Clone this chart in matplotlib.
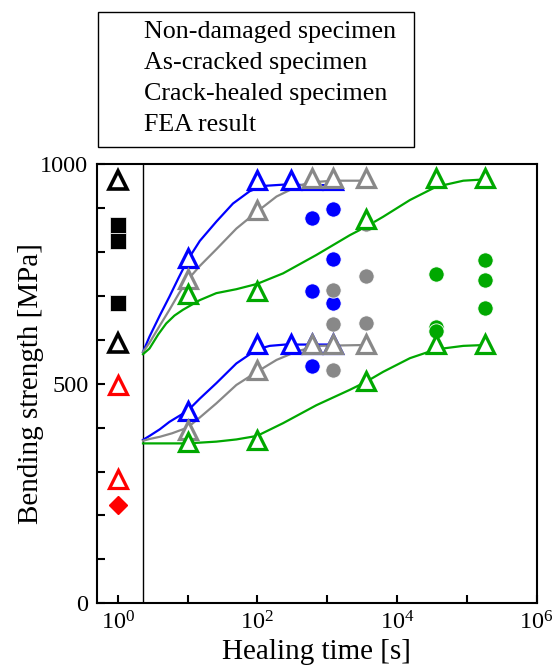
import math
import matplotlib
matplotlib.use("Agg")
import matplotlib.pyplot as plt
from matplotlib.ticker import FixedLocator, FuncFormatter, NullLocator
from matplotlib.patches import Rectangle

plt.rcParams['font.family'] = ['Liberation Serif', 'DejaVu Serif']
plt.rcParams['mathtext.fontset'] = 'custom'
plt.rcParams['mathtext.rm'] = 'Liberation Serif'
plt.rcParams['mathtext.it'] = 'Liberation Serif:italic'

BLUE = '#0000FF'
GRAY = '#888888'
GREEN = '#00A800'
RED = '#FF0000'

# ---- data ----
legend_labels = ["Non-damaged specimen", "As-cracked specimen",
                 "Crack-healed specimen", "FEA result"]

# left panel (t = 1 s)
nd_specimen = [861, 825, 683]
nd_fea = [963, 592]
ac_fea = [497, 283]
ac_specimen = [224]

# FEA points (triangles)
blue_fea_t = [10, 100, 300, 600, 1200]
blue_fea_up = [785, 963, 963, 963, 963]
blue_fea_low = [438, 590, 590, 590, 590]
gray_fea_t = [10, 100, 600, 1200, 3600]
gray_fea_up = [738, 895, 968, 968, 968]
gray_fea_low = [395, 530, 590, 590, 590]
green_fea_t = [10, 100, 3600, 36000, 180000]
green_fea_up = [704, 711, 874, 968, 968]
green_fea_low = [368, 372, 505, 590, 590]

# crack-healed specimens (circles)
blue_sp_t = [600, 600, 600, 1200, 1200, 1200]
blue_sp_v = [876, 712, 540, 897, 784, 684]
gray_sp_t = [1200, 1200, 1200, 3600, 3600, 3600]
gray_sp_v = [713, 635, 531, 863, 745, 639]
green_sp_t = [36000, 36000, 36000, 180000, 180000, 180000]
green_sp_v = [750, 628, 620, 781, 737, 673]

# FEA curves
blue_up_t = [2.3, 2.85, 4, 5.5, 7.5, 10, 15, 25.9, 44.7, 77.6, 120, 234, 600, 1500]
blue_up_v = [572, 607, 655, 698, 742, 781, 825, 869, 910, 938, 950, 953, 952, 952]
gray_up_t = [2.3, 2.85, 4, 5.5, 7.5, 10, 15, 25.9, 50, 98, 188, 362, 562, 1200, 3600]
gray_up_v = [572, 593, 632, 668, 705, 736, 768, 806, 853, 891, 926, 948, 958, 962, 962]
green_up_t = [2.3, 2.85, 3.8, 4.95, 6.5, 8.57, 14.9, 25.8, 50, 98.7, 233, 701, 2110,
              3580, 6340, 15300, 36100, 89000, 182000]
green_up_v = [567, 580, 612, 637, 655, 668, 690, 706, 715, 727, 751, 793, 838,
              857, 880, 918, 948, 962, 965]
blue_low_t = [2.3, 2.85, 4, 5.5, 7.5, 10, 15, 25.8, 50, 98.7, 150, 250, 400, 1000]
blue_low_v = [372, 381, 396, 413, 426, 438, 466, 501, 546, 578, 586, 589, 589, 589]
gray_low_t = [2.3, 2.85, 4, 6, 10, 15, 25.8, 50, 98.7, 188, 362, 701, 3600]
gray_low_v = [370, 374, 379, 387, 400, 423, 455, 497, 527, 554, 573, 586, 588]
green_low_t = [2.3, 10, 25.8, 50, 98.7, 233, 701, 2110, 3580, 6340, 15300,
               36100, 89000, 182000]
green_low_v = [364, 364, 368, 373, 381, 410, 451, 486, 504, 527, 558,
               578, 586, 588]

divider_t = 2.3
x_ticks = [1, 10, 100, 1000, 1e4, 1e5, 1e6]
x_labeled = [0, 2, 4, 6]
y_ticks = list(range(0, 1001, 100))
y_labeled = [0, 500, 1000]

# ---- figure ----
W, H = 556, 667
fig = plt.figure(figsize=(W / 100, H / 100), dpi=100)
ax = fig.add_axes([96.7 / W, 1 - 603.3 / H, (536.7 - 96.7) / W, (603.3 - 164) / H])

ax.set_xscale('log')
ax.set_xlim(0.5, 1e6)
ax.set_ylim(0, 1000)

lw = 1.6
ax.plot(blue_up_t, blue_up_v, color=BLUE, lw=lw, zorder=2)
ax.plot(gray_up_t, gray_up_v, color=GRAY, lw=lw, zorder=2)
ax.plot(green_up_t, green_up_v, color=GREEN, lw=lw, zorder=2)
ax.plot(blue_low_t, blue_low_v, color=BLUE, lw=lw, zorder=2)
ax.plot(gray_low_t, gray_low_v, color=GRAY, lw=lw, zorder=2)
ax.plot(green_low_t, green_low_v, color=GREEN, lw=lw, zorder=2)

ax.axvline(divider_t, color='black', lw=1.0, zorder=1)

cms = 11
for t, v, c in [(blue_sp_t, blue_sp_v, BLUE), (gray_sp_t, gray_sp_v, GRAY),
                (green_sp_t, green_sp_v, GREEN)]:
    ax.plot(t, v, 'o', ms=cms, color=c, mec='white', mew=0.6, zorder=3)

tms = 12.5
tmew = 2.3
for t, vu, vl, c in [(blue_fea_t, blue_fea_up, blue_fea_low, BLUE),
                     (gray_fea_t, gray_fea_up, gray_fea_low, GRAY),
                     (green_fea_t, green_fea_up, green_fea_low, GREEN)]:
    ax.plot(t, vu, '^', ms=tms, mfc='white', mec=c, mew=tmew, zorder=4)
    ax.plot(t, vl, '^', ms=tms, mfc='white', mec=c, mew=tmew, zorder=4)

ax.plot([1] * len(nd_specimen), nd_specimen, 's', ms=11, color='black',
        mec='white', mew=0.5, zorder=3)
ax.plot([1] * len(nd_fea), nd_fea, '^', ms=tms, mfc='white', mec='black', mew=2.6, zorder=4)
ax.plot([1] * len(ac_fea), ac_fea, '^', ms=tms, mfc='white', mec=RED, mew=tmew, zorder=4)
ax.plot([1] * len(ac_specimen), ac_specimen, 'D', ms=9, color=RED, zorder=3)

# ticks
ax.xaxis.set_major_locator(FixedLocator(x_ticks))
ax.xaxis.set_minor_locator(NullLocator())
ax.xaxis.set_major_formatter(FuncFormatter(
    lambda v, p: (r'$\mathregular{10^{%d}}$' % round(math.log10(v)))
    if round(math.log10(v)) in x_labeled else ''))
ax.yaxis.set_major_locator(FixedLocator(y_ticks))
ax.yaxis.set_minor_locator(NullLocator())
ax.yaxis.set_major_formatter(FuncFormatter(
    lambda v, p: '%d' % v if int(round(v)) in y_labeled else ''))
ax.tick_params(direction='in', length=6, width=1.5, labelsize=17.5,
               top=False, right=False, pad=6)

for s in ax.spines.values():
    s.set_linewidth(1.5)

ax.set_xlabel('Healing time [s]', fontsize=21, labelpad=3)
ax.set_ylabel('Bending strength [MPa]', fontsize=21, labelpad=-3)

# legend box (text only)
fig.patches.append(Rectangle((97.5 / W, 1 - 147 / H), (414 - 97.5) / W, (147 - 12) / H,
                             transform=fig.transFigure, fill=False,
                             edgecolor='black', lw=1.0))
for i, lab in enumerate(legend_labels):
    fig.text(144 / W, 1 - (32 + i * 31) / H, lab, fontsize=18.7,
             ha='left', va='center')

fig.savefig('out.png', dpi=100)
